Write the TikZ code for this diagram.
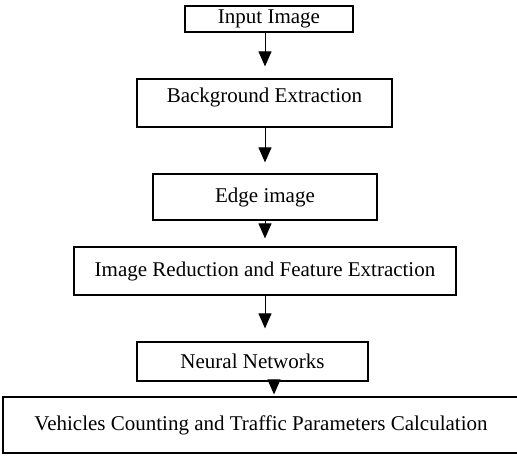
\documentclass[tikz,border=0pt]{standalone}
\usepackage{fontspec}
\setmainfont{Liberation Serif}
\usetikzlibrary{arrows.meta}

\begin{document}
\begin{tikzpicture}[x=1pt, y=-1pt,
    stage/.style={draw, line width=1.2pt, inner sep=0pt,
      font=\fontsize{21}{25}\selectfont},
    flow/.style={-{Triangle[width=13pt,length=15pt]}, line width=1pt}]
    \useasboundingbox (0,0) rectangle (517,461);

    \node[stage, minimum width=168pt, minimum height=26pt] at (269,19) (in) {Input Image};
    \node[stage, minimum width=255pt, minimum height=48pt, text depth=16pt] at (264.5,103) (bg) {Background Extraction};
    \node[stage, minimum width=224pt, minimum height=46pt] at (265,197) (edge) {Edge image};
    \node[stage, minimum width=382pt, minimum height=48pt] at (265,271) (red) {Image Reduction and Feature Extraction};
    \node[stage, minimum width=231pt, minimum height=39pt] at (252.5,361.5) (nn) {Neural Networks};
    \node[stage, minimum width=516pt, minimum height=56pt] at (261,425) (veh) {Vehicles Counting and Traffic Parameters Calculation};

    \coordinate (ax) at (265,0);
    \coordinate (bx) at (274,0);

    \draw[flow, shorten >=12pt] (in.south -| ax) -- (bg.north -| ax);
    \draw[flow, shorten >=11pt] (bg.south -| ax) -- (edge.north -| ax);
    \draw[flow, shorten >=8pt] (edge.south -| ax) -- (red.north -| ax);
    \draw[flow, shorten >=13pt] (red.south -| ax) -- (nn.north -| ax);
    \draw[flow, shorten >=2pt] (nn.south -| bx) -- (veh.north -| bx);
  \end{tikzpicture}
\end{document}
